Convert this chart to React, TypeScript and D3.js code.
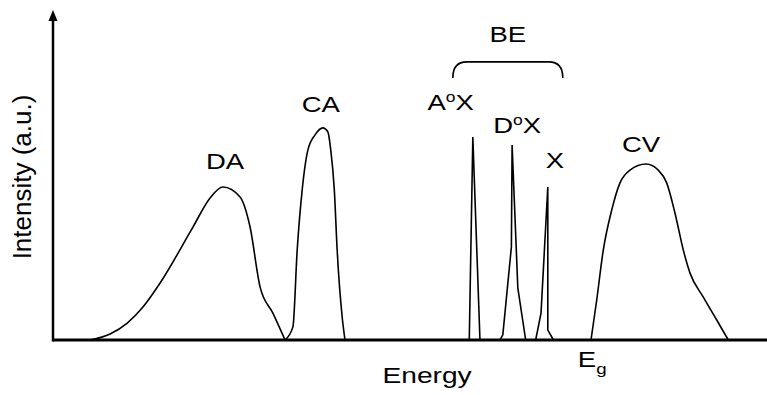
import * as d3 from "d3";

const WIDTH = 767;
const HEIGHT = 395;
const MARGIN = { top: 20, right: 0, bottom: 55, left: 53 };

// energy / intensity in arbitrary units (0-100)
const daEnergy = [5.2, 8.0, 10.4, 12.6, 15.0, 19.6, 22.0, 23.8, 26.2, 27.6, 29.0, 30.8, 32.5];
const daIntensity = [0, 1.9, 5.3, 10.3, 17.8, 35.3, 44.4, 47.8, 44.7, 35.3, 16.6, 8.4, 0];

const caEnergy = [32.5, 33.6, 34.2, 34.9, 35.7, 36.7, 37.8, 38.5, 38.9, 39.4, 39.8, 40.5, 40.9];
const caIntensity = [0, 4.1, 28.1, 46.9, 59.4, 64.1, 66.3, 65.0, 59.4, 46.9, 28.1, 7.2, 0];

const aoxEnergy = [58.3, 58.8, 59.8];
const aoxIntensity = [0, 63.4, 0];

const doxEnergy = [62.6, 63.0, 64.2, 64.3, 65.1, 66.2];
const doxIntensity = [0, 1.6, 29.1, 60.9, 16.3, 0];

const xEnergy = [67.6, 68.35, 69.3, 69.3, 70.1];
const xIntensity = [0, 8.4, 47.8, 3.1, 0];

const cvEnergy = [75.35, 76.15, 77.07, 78.25, 79.41, 80.81, 83.05, 84.77, 85.95, 87.11, 88.28, 89.22, 91.08, 92.96, 94.58];
const cvIntensity = [0, 12.5, 28.1, 40.6, 49.1, 53.1, 55.0, 53.1, 49.1, 39.7, 28.1, 20.9, 13.4, 6.25, 0];

// label anchors: name, energy (centre), intensity (baseline)
const labelNames = ["DA", "CA", "A°X", "D°X", "X", "CV"];
const labelEnergy = [24.1, 37.5, 55.7, 65.0, 70.3, 82.35];
const labelIntensity = [53.4, 71.25, 71.9, 64.7, 53.75, 58.75];

const beRange = [56.0, 71.4];
const beLevel = [81.9, 86.9];

const STRETCH = 1.25;
const FONT = "'Liberation Sans', Arial, sans-serif";

const zip = (xs: number[], ys: number[]) => xs.map((x, i) => [x, ys[i]] as [number, number]);

export default function App() {
  const xScale = d3.scaleLinear().domain([0, 100]).range([MARGIN.left, WIDTH - MARGIN.right]);
  const yScale = d3.scaleLinear().domain([0, 100]).range([HEIGHT - MARGIN.bottom, MARGIN.top]);

  const smooth = d3
    .line<[number, number]>()
    .x((d) => xScale(d[0]))
    .y((d) => yScale(d[1]))
    .curve(d3.curveMonotoneX);

  const sharp = d3
    .line<[number, number]>()
    .x((d) => xScale(d[0]))
    .y((d) => yScale(d[1]));

  const smoothSeries = [zip(daEnergy, daIntensity), zip(caEnergy, caIntensity), zip(cvEnergy, cvIntensity)];
  const sharpSeries = [zip(aoxEnergy, aoxIntensity), zip(doxEnergy, doxIntensity), zip(xEnergy, xIntensity)];

  const x0 = xScale(0);
  const y0 = yScale(0);
  const yTop = yScale(100);

  // brace over the bound excitons
  const bx1 = xScale(beRange[0]);
  const bx2 = xScale(beRange[1]);
  const by1 = yScale(beLevel[0]);
  const by2 = yScale(beLevel[1]);
  const r = 14;
  const brace = `M${bx1},${by1} Q${bx1},${by2} ${bx1 + r},${by2} L${bx2 - r},${by2} Q${bx2},${by2} ${bx2},${by1}`;

  const renderLabel = (name: string, i: number) => {
    const parts = name.split("°");
    return (
      <text
        key={i}
        transform={`translate(${xScale(labelEnergy[i])},${yScale(labelIntensity[i])}) scale(${STRETCH},1)`}
        textAnchor="middle"
        fontSize={22}
        fontFamily={FONT}
      >
        {parts.length > 1 ? (
          <>
            {parts[0]}
            <tspan fontSize={14} dy={-8}>o</tspan>
            <tspan dy={8}>{parts[1]}</tspan>
          </>
        ) : (
          name
        )}
      </text>
    );
  };

  return (
    <svg width={WIDTH} height={HEIGHT} style={{ position: "absolute", left: 0, top: 0, background: "white" }}>
      {/* axes */}
      <line x1={x0} x2={WIDTH} y1={y0} y2={y0} stroke="black" strokeWidth={3} />
      <line x1={x0} x2={x0} y1={y0 + 1.5} y2={yTop - 2} stroke="black" strokeWidth={2.5} />
      <path d={`M${x0},${yTop - 10} L${x0 - 4.5},${yTop + 1} L${x0 + 4.5},${yTop + 1} Z`} fill="black" />

      {/* peaks */}
      {smoothSeries.map((s, i) => (
        <path key={`s${i}`} d={smooth(s) ?? ""} fill="none" stroke="black" strokeWidth={1.6} />
      ))}
      {sharpSeries.map((s, i) => (
        <path key={`p${i}`} d={sharp(s) ?? ""} fill="none" stroke="black" strokeWidth={1.6} strokeLinejoin="miter" />
      ))}

      {/* labels */}
      {labelNames.map(renderLabel)}

      <path d={brace} fill="none" stroke="black" strokeWidth={1.6} />
      <text
        transform={`translate(${(bx1 + bx2) / 2},${yScale(93.1)}) scale(${STRETCH},1)`}
        textAnchor="middle"
        fontSize={22}
        fontFamily={FONT}
      >
        BE
      </text>

      <text
        transform={`translate(${xScale(73.5)},${yScale(-8.4)}) scale(${STRETCH},1)`}
        fontSize={22}
        fontFamily={FONT}
      >
        E<tspan fontSize={15} dy={7}>g</tspan>
      </text>

      {/* axis titles */}
      <text
        transform={`translate(${xScale(52.4)},${y0 + 43}) scale(${STRETCH},1)`}
        textAnchor="middle"
        fontSize={22.5}
        fontFamily={FONT}
      >
        Energy
      </text>
      <text
        transform={`translate(${x0 - 22},${(y0 + yTop) / 2 - 3}) rotate(-90)`}
        textAnchor="middle"
        fontSize={26}
        fontFamily={FONT}
      >
        Intensity (a.u.)
      </text>
    </svg>
  );
}
